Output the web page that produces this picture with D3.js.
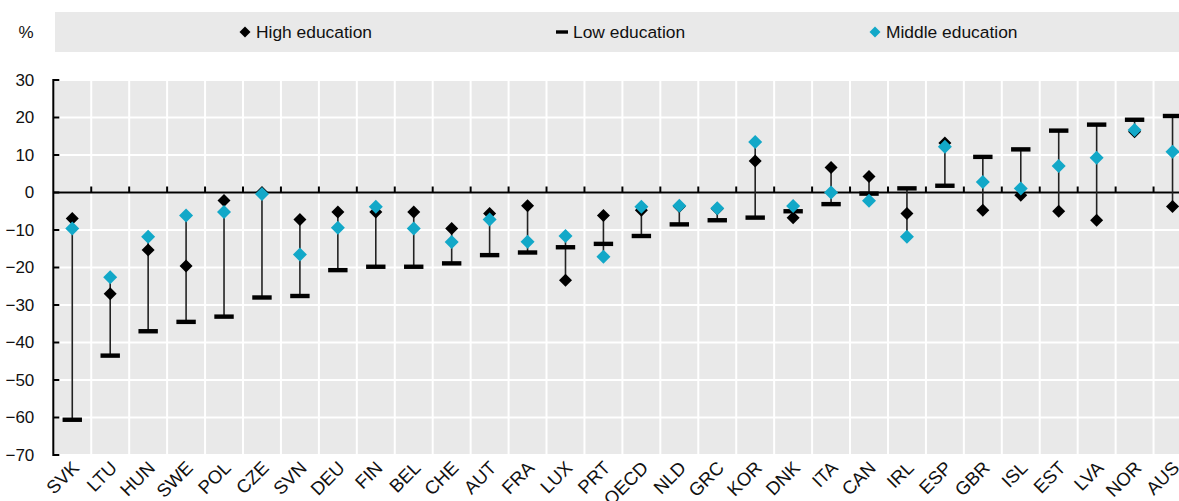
<!DOCTYPE html>
<html>
<head>
<meta charset="utf-8">
<script src="https://cdn.jsdelivr.net/npm/d3@7"></script>
<style>
  html, body { margin: 0; padding: 0; background: #fff; }
  svg { display: block; font-family: "Liberation Sans", Arial, sans-serif; }
</style>
</head>
<body>
<svg id="chart" width="1179" height="501"></svg>
<script>
const categories = ["SVK","LTU","HUN","SWE","POL","CZE","SVN","DEU","FIN","BEL","CHE","AUT","FRA","LUX","PRT","OECD","NLD","GRC","KOR","DNK","ITA","CAN","IRL","ESP","GBR","ISL","EST","LVA","NOR","AUS"];
const highEdu   = [-6.9,-27.0,-15.3,-19.6,-2.1, 0.0,-7.2,-5.2,-5.2,-5.2,-9.6,-5.6,-3.5,-23.4,-6.1,-4.7,-3.7,-4.3, 8.4,-6.7, 6.7, 4.3,-5.6,13.2,-4.7,-0.7,-5.0,-7.4,16.2,-3.7];
const lowEdu    = [-60.6,-43.5,-37.0,-34.5,-33.1,-28.0,-27.6,-20.7,-19.8,-19.8,-18.9,-16.7,-16.0,-14.6,-13.7,-11.6,-8.5,-7.4,-6.7,-5.0,-3.1,-0.3, 1.1, 1.8, 9.5,11.5,16.5,18.1,19.4,20.4];
const middleEdu = [-9.6,-22.6,-11.8,-6.1,-5.2,-0.4,-16.5,-9.4,-3.8,-9.6,-13.2,-7.2,-13.1,-11.6,-17.1,-3.8,-3.5,-4.2,13.5,-3.6, 0.0,-2.2,-11.8,12.2, 2.8, 1.1, 7.1, 9.3,16.7,10.9];
const yTicks = [30,20,10,0,-10,-20,-30,-40,-50,-60,-70];
const seriesNames = ["High education","Low education","Middle education"];

(function () {
const colors = { high: "#000000", low: "#000000", middle: "#12a8c8", bg: "#e9e9e9" };

const svg = d3.select("#chart");
const pL = 53.3, pT = 80, pB = 455;
const band = 37.94;
const pR = pL + band * categories.length;

const x = d3.scaleBand().domain(categories).range([pL, pR]).paddingInner(0).paddingOuter(0);
const y = d3.scaleLinear().domain([-70, 30]).range([pB, pT]);

// Legend box
svg.append("rect").attr("x", 55).attr("y", 12).attr("width", 1179 - 55).attr("height", 40).attr("fill", colors.bg);
svg.append("text").attr("x", 26).attr("y", 38).attr("text-anchor", "middle").attr("font-size", 17).attr("fill", "#111").text("%");

const diamond = (s) => `M0,${-s}L${s},0L0,${s}L${-s},0Z`;

const legendItems = [
  { name: seriesNames[0], x: 245, type: "high" },
  { name: seriesNames[1], x: 562, type: "low" },
  { name: seriesNames[2], x: 875, type: "middle" }
];
legendItems.forEach(it => {
  const g = svg.append("g").attr("transform", `translate(${it.x},32)`);
  if (it.type === "low") {
    g.append("rect").attr("x", -6).attr("y", -1.7).attr("width", 12).attr("height", 3.4).attr("fill", "#000");
  } else {
    g.append("path").attr("d", diamond(5.5)).attr("fill", colors[it.type]);
  }
  g.append("text").attr("x", 11).attr("y", 6.3).attr("font-size", 17.4).attr("fill", "#111").text(it.name);
});

// Plot background
svg.append("rect").attr("x", pL).attr("y", pT).attr("width", pR - pL).attr("height", pB - pT).attr("fill", colors.bg);

// Horizontal grid
svg.append("g").selectAll("line").data(yTicks).join("line")
  .attr("x1", pL).attr("x2", pR)
  .attr("y1", d => y(d)).attr("y2", d => y(d))
  .attr("stroke", "#fff").attr("stroke-width", 2);

// Vertical grid at band boundaries
svg.append("g").selectAll("line").data(categories.slice(1)).join("line")
  .attr("x1", d => x(d)).attr("x2", d => x(d))
  .attr("y1", pT).attr("y2", pB)
  .attr("stroke", "#fff").attr("stroke-width", 2);

// Y axis
const yAxis = d3.axisLeft(y).tickValues(yTicks).tickSize(0).tickPadding(19).tickFormat(d3.format("d"));
const yg = svg.append("g").attr("transform", `translate(${pL},0)`).call(yAxis);
yg.select(".domain").remove();
yg.selectAll(".tick text").attr("font-size", 17).attr("fill", "#111").attr("font-family", "Liberation Sans, Arial, sans-serif");
svg.append("line").attr("x1", pL).attr("x2", pL).attr("y1", pT - 1).attr("y2", pB + 1).attr("stroke", "#000").attr("stroke-width", 2);
svg.append("g").selectAll("line").data(yTicks).join("line")
  .attr("x1", pL).attr("x2", pL + 6).attr("y1", d => y(d)).attr("y2", d => y(d))
  .attr("stroke", "#000").attr("stroke-width", 2);

// X axis at zero
const xg = svg.append("g").attr("transform", `translate(0,${y(0)})`);
xg.append("line").attr("x1", pL).attr("x2", pR).attr("y1", 0).attr("y2", 0).attr("stroke", "#000").attr("stroke-width", 2);
xg.selectAll("line.tk").data(categories.slice(1)).join("line").attr("class", "tk")
  .attr("x1", d => x(d)).attr("x2", d => x(d)).attr("y1", 0).attr("y2", -6)
  .attr("stroke", "#000").attr("stroke-width", 2);

// X labels (rotated)
const xAxis = d3.axisBottom(x).tickSize(0).tickFormat(d => d);
const lg = svg.append("g").attr("transform", `translate(0,${pB})`).call(xAxis);
lg.select(".domain").remove();
lg.selectAll(".tick text")
  .attr("font-size", 18.5).attr("fill", "#111").attr("font-family", "Liberation Sans, Arial, sans-serif")
  .attr("text-anchor", "end").attr("dy", 0).attr("y", 0)
  .attr("transform", "translate(8,14) rotate(-45)");

// Data
const data = categories.map((c, i) => ({ c, high: highEdu[i], low: lowEdu[i], middle: middleEdu[i] }));
const cx = d => x(d.c) + band / 2;

// high-low lines
svg.append("g").selectAll("line").data(data).join("line")
  .attr("x1", cx).attr("x2", cx)
  .attr("y1", d => y(Math.max(d.high, d.low, d.middle)))
  .attr("y2", d => y(Math.min(d.high, d.low, d.middle)))
  .attr("stroke", "#222").attr("stroke-width", 1.6);

// low bars
svg.append("g").selectAll("rect").data(data).join("rect")
  .attr("x", d => cx(d) - 9.7).attr("y", d => y(d.low) - 2.2)
  .attr("width", 19.4).attr("height", 4.4).attr("fill", colors.low);

// high diamonds
svg.append("g").selectAll("path").data(data).join("path")
  .attr("transform", d => `translate(${cx(d)},${y(d.high)})`)
  .attr("d", diamond(6.5)).attr("fill", colors.high);

// middle diamonds
svg.append("g").selectAll("path").data(data).join("path")
  .attr("transform", d => `translate(${cx(d)},${y(d.middle)})`)
  .attr("d", diamond(7)).attr("fill", colors.middle);
})();
</script>
</body>
</html>
